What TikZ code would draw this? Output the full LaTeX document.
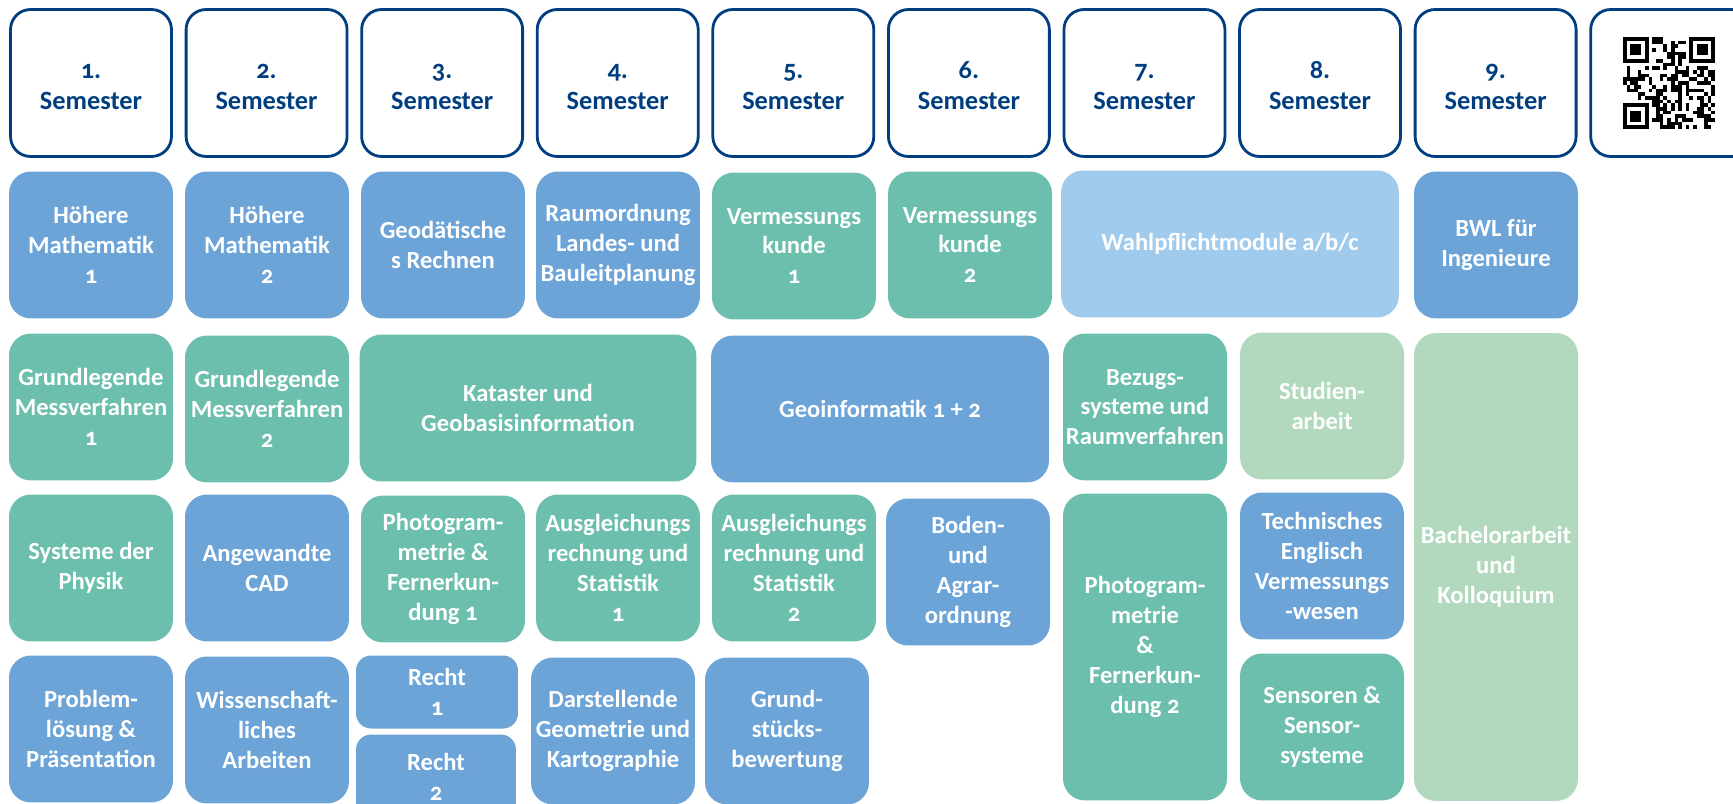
\documentclass[tikz,border=0pt]{standalone}
\usepackage{fontspec}
\setmainfont{Carlito}[Numbers=OldStyle]
\usetikzlibrary{positioning}
\definecolor{csem}{RGB}{0,62,128}
\definecolor{cblau}{RGB}{108,164,216}
\definecolor{cgruen}{RGB}{108,191,173}
\definecolor{cwahl}{RGB}{160,203,237}
\definecolor{carbeit}{RGB}{178,217,190}

\begin{document}
\begin{tikzpicture}[x=0.02cm,y=-0.02cm,node distance=0.236cm,
    sem/.style={draw=csem,line width=1.6pt,rounded corners=0.4cm,text=csem,
                minimum width=3.22cm,minimum height=2.94cm,align=center,
                font=\bfseries\fontsize{15}{18}\selectfont},
    modul/.style={rounded corners=0.44cm,text=white,minimum width=3.28cm,
                  minimum height=2.94cm,align=center,inner sep=0pt,
                  font=\bfseries\fontsize{14}{17}\selectfont},
    mblau/.style={modul,fill=cblau},
    mgruen/.style={modul,fill=cgruen},
    wahl/.style={modul,fill=cwahl},
    arbeit/.style={modul,fill=carbeit}]

 \useasboundingbox (0,0) rectangle (1733,804);
 \clip (0,0) rectangle (1733,804);

 % semester
 \node[sem] (S1) at (91,83)    {\strut 1.\\Semester};
 \node[sem] (S2) [right=of S1] {\strut 2.\\Semester};
 \node[sem] (S3) [right=of S2] {\strut 3.\\Semester};
 \node[sem] (S4) [right=of S3] {\strut 4.\\Semester};
 \node[sem] (S5) [right=of S4] {\strut 5.\\Semester};
 \node[sem] (S6) [right=of S5] {\strut 6.\\Semester};
 \node[sem] (S7) [right=of S6] {\strut 7.\\Semester};
 \node[sem] (S8) [right=of S7] {\strut 8.\\Semester};
 \node[sem] (S9) [right=of S8] {\strut 9.\\Semester};
 \node[sem] (QR) [right=of S9] {};

 % row 1
 \node[mblau]  (HM1) at (91,245)   {Höhere\\Mathematik\\1};
 \node[mblau]  (HM2) at (267,245)  {Höhere\\Mathematik\\2};
 \node[mblau]  (GR)  at (443,245)  {Geodätische\\s Rechnen};
 \node[mblau]  (RO)  at (618,245)  {Raumordnung\\Landes- und\\Bauleitplanung};
 \node[mgruen] (VK1) at (794,246)  {Vermessungs\\kunde\\1};
 \node[mgruen] (VK2) at (970,245)  {Vermessungs\\kunde\\2};
 \node[wahl,minimum width=6.76cm] (WP) at (1230,244) {Wahlpflichtmodule a/b/c};
 \node[mblau]  (BWL) at (1496,245) {BWL für\\Ingenieure};

 % row 2
 \node[mgruen] (GM1) at (91,407)   {Grundlegende\\Messverfahren\\1};
 \node[mgruen] (GM2) at (267,409)  {Grundlegende\\Messverfahren\\2};
 \node[mgruen,minimum width=6.74cm] (KG) at (528,408) {Kataster und\\Geobasisinformation};
 \node[mblau,minimum width=6.76cm]  (GI) at (880,409) {Geoinformatik 1 + 2};
 \node[mgruen] (BS)  at (1145,407) {Bezugs-\\systeme und\\Raumverfahren};
 \node[arbeit] (SA)  at (1322,406) {Studien-\\arbeit};
 \node[arbeit,minimum height=9.36cm] (BA) at (1496,567) {Bachelorarbeit\\und\\Kolloquium};

 % row 3
 \node[mgruen] (SP)  at (91,568)   {Systeme der\\Physik};
 \node[mblau]  (CAD) at (267,568)  {Angewandte\\CAD};
 \node[mgruen] (PF1) at (443,569)  {Photogram-\\metrie \&\\Fernerkun-\\dung 1};
 \node[mgruen] (AS1) at (618,568)  {Ausgleichungs\\rechnung und\\Statistik\\1};
 \node[mgruen] (AS2) at (794,568)  {Ausgleichungs\\rechnung und\\Statistik\\2};
 \node[mblau]  (BA2) at (968,572)  {Boden-\\und\\Agrar-\\ordnung};
 \node[mgruen,minimum height=6.14cm] (PF2) at (1145,647) {Photogram-\\metrie\\\&\\Fernerkun-\\dung 2};
 \node[mblau]  (TE)  at (1322,566) {Technisches\\Englisch\\Vermessungs\\-wesen};

 % row 4
 \node[mblau]  (PL)  at (91,729)   {Problem-\\lösung \&\\Präsentation};
 \node[mblau]  (WA)  at (267,730)  {Wissenschaft-\\liches\\Arbeiten};
 \node[mblau,minimum width=3.24cm,minimum height=1.46cm,rounded corners=0.3cm] (R1) at (437,692) {Recht\\1};
 \node[mblau,minimum width=3.2cm,minimum height=1.7cm,rounded corners=0.3cm]   (R2) at (436,777) {Recht\\2};
 \node[mblau]  (DG)  at (613,731)  {Darstellende\\Geometrie und\\Kartographie};
 \node[mblau]  (GB)  at (787,731)  {Grund-\\stücks-\\bewertung};
 \node[mgruen] (SS)  at (1322,727) {Sensoren \&\\Sensor-\\systeme};

 % qr code
 \begin{scope}[shift={(1623,37)},x=0.0736cm,y=-0.0736cm]
  \pgfmathsetseed{42}
  \foreach \i in {0,...,24}
   \foreach \j in {0,...,24}{
    \pgfmathtruncatemacro\qrdot{and(rnd<0.5,!(or(and(\i<8,\j<8),or(and(\i>16,\j<8),and(\i<8,\j>16)))))}
    \ifnum\qrdot=1 \fill (\i,\j) rectangle +(1,1); \fi
   }
  \foreach \a/\b in {0/0,18/0,0/18}{
   \fill (\a,\b) rectangle +(7,7);
   \fill[white] (\a+1,\b+1) rectangle +(5,5);
   \fill (\a+2,\b+2) rectangle +(3,3);
  }
 \end{scope}

\end{tikzpicture}
\end{document}
